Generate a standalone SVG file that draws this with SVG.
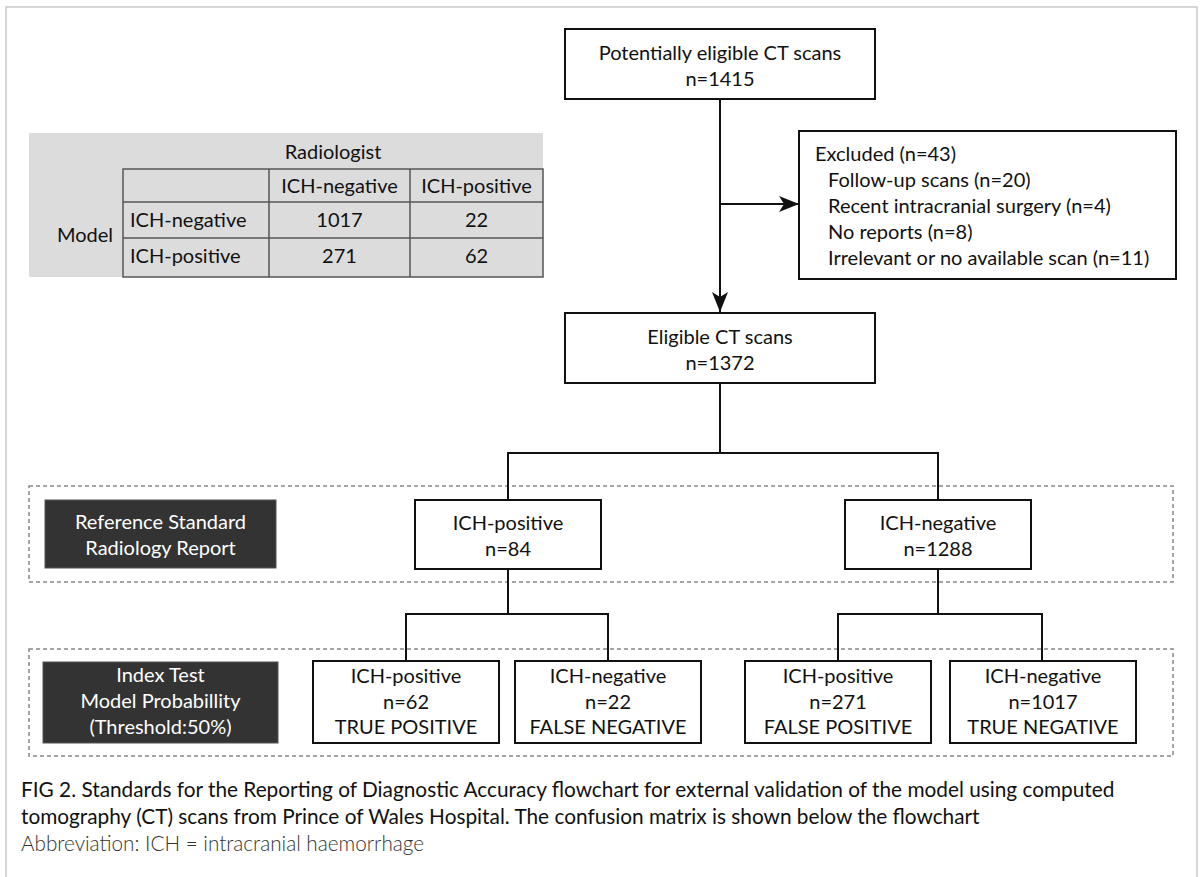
<svg xmlns="http://www.w3.org/2000/svg" width="1203" height="877" viewBox="0 0 1203 877">
<style>
text{font-family:"Lato","Liberation Sans",sans-serif;font-size:20px;fill:#111}
.c{text-anchor:middle}
.w{fill:#fff}
.box{fill:#fff;stroke:#111;stroke-width:2}
.dark{fill:#333;stroke:#555;stroke-width:1}
.dash{fill:none;stroke:#888;stroke-width:1.5;stroke-dasharray:4 3}
.ln{fill:none;stroke:#111;stroke-width:2}
.grid{fill:none;stroke:#555;stroke-width:1.5}
.cap{font-size:20.8px}
.abbr{font-size:20.7px;font-weight:300;fill:#333}
</style>
<defs>
<marker id="ah" viewBox="0 0 20 16" refX="20" refY="8" markerWidth="20" markerHeight="16" markerUnits="userSpaceOnUse" orient="auto">
<path d="M0,0 L20,8 L0,16 L5,8 Z" fill="#111"/>
</marker>
</defs>
<rect x="6" y="7" width="1191" height="880" fill="#fff" stroke="#c8c8c8" stroke-width="1.5"/>

<g id="matrix">
<rect x="29" y="133" width="514" height="144" fill="#dcdcdc"/>
<rect x="123" y="169" width="420" height="108" class="grid"/>
<line x1="123" y1="202" x2="543" y2="202" class="grid"/>
<line x1="123" y1="238" x2="543" y2="238" class="grid"/>
<line x1="269" y1="169" x2="269" y2="277" class="grid"/>
<line x1="410" y1="169" x2="410" y2="277" class="grid"/>
<text x="333" y="159" class="c">Radiologist</text>
<text x="85" y="242" class="c">Model</text>
<text x="339.5" y="193" class="c">ICH-negative</text>
<text x="476.5" y="193" class="c">ICH-positive</text>
<text x="130" y="227">ICH-negative</text>
<text x="130" y="263">ICH-positive</text>
<text x="339.5" y="227" class="c">1017</text>
<text x="476.5" y="227" class="c">22</text>
<text x="339.5" y="263" class="c">271</text>
<text x="476.5" y="263" class="c">62</text>
</g>

<g id="bands">
<rect x="29" y="486" width="1144" height="96" class="dash"/>
<rect x="29" y="649" width="1144" height="107" class="dash"/>
</g>

<g id="connectors">
<line x1="720" y1="99" x2="720" y2="312" class="ln" marker-end="url(#ah)"/>
<line x1="720" y1="204" x2="799" y2="204" class="ln" marker-end="url(#ah)"/>
<polyline points="720,383 720,453" class="ln"/>
<polyline points="508,500 508,453 938,453 938,500" class="ln"/>
<polyline points="508,569 508,614" class="ln"/>
<polyline points="406,661 406,614 608,614 608,661" class="ln"/>
<polyline points="938,569 938,614" class="ln"/>
<polyline points="838,661 838,614 1042,614 1042,661" class="ln"/>
</g>

<g id="n_potential">
<rect x="565" y="29" width="310" height="70" class="box"/>
<text x="720" y="60" class="c">Potentially eligible CT scans</text>
<text x="720" y="86" class="c">n=1415</text>
</g>

<g id="n_excluded">
<rect x="799" y="131" width="377" height="148" class="box"/>
<text x="815" y="161">Excluded (n=43)</text>
<text x="828" y="187">Follow-up scans (n=20)</text>
<text x="828" y="213">Recent intracranial surgery (n=4)</text>
<text x="828" y="239">No reports (n=8)</text>
<text x="828" y="265">Irrelevant or no available scan (n=11)</text>
</g>

<g id="n_eligible">
<rect x="565" y="313" width="310" height="70" class="box"/>
<text x="720" y="344" class="c">Eligible CT scans</text>
<text x="720" y="370" class="c">n=1372</text>
</g>

<g id="lbl_reference">
<rect x="45" y="500" width="231" height="68" class="dark"/>
<text x="160.5" y="529" class="c w">Reference Standard</text>
<text x="160.5" y="555" class="c w">Radiology Report</text>
</g>

<g id="n_ref_pos">
<rect x="415" y="500" width="186" height="69" class="box"/>
<text x="508" y="530" class="c">ICH-positive</text>
<text x="508" y="556" class="c">n=84</text>
</g>

<g id="n_ref_neg">
<rect x="845" y="500" width="186" height="69" class="box"/>
<text x="938" y="530" class="c">ICH-negative</text>
<text x="938" y="556" class="c">n=1288</text>
</g>

<g id="lbl_index">
<rect x="43" y="662" width="235" height="81" class="dark"/>
<text x="160.5" y="682" class="c w">Index Test</text>
<text x="160.5" y="708" class="c w">Model Probabillity</text>
<text x="160.5" y="734" class="c w">(Threshold:50%)</text>
</g>

<g id="n_tp">
<rect x="313" y="661" width="186" height="82" class="box"/>
<text x="406" y="683" class="c">ICH-positive</text>
<text x="406" y="709" class="c">n=62</text>
<text x="406" y="734" class="c">TRUE POSITIVE</text>
</g>

<g id="n_fn">
<rect x="515" y="661" width="186" height="82" class="box"/>
<text x="608" y="683" class="c">ICH-negative</text>
<text x="608" y="709" class="c">n=22</text>
<text x="608" y="734" class="c">FALSE NEGATIVE</text>
</g>

<g id="n_fp">
<rect x="745" y="661" width="186" height="82" class="box"/>
<text x="838" y="683" class="c">ICH-positive</text>
<text x="838" y="709" class="c">n=271</text>
<text x="838" y="734" class="c">FALSE POSITIVE</text>
</g>

<g id="n_tn">
<rect x="950" y="661" width="186" height="82" class="box"/>
<text x="1043" y="683" class="c">ICH-negative</text>
<text x="1043" y="709" class="c">n=1017</text>
<text x="1043" y="734" class="c">TRUE NEGATIVE</text>
</g>

<g id="caption">
<text x="21" y="797" class="cap">FIG 2. Standards for the Reporting of Diagnostic Accuracy flowchart for external validation of the model using computed</text>
<text x="21" y="824" class="cap">tomography (CT) scans from Prince of Wales Hospital. The confusion matrix is shown below the flowchart</text>
<text x="21" y="851" class="abbr">Abbreviation: ICH = intracranial haemorrhage</text>
</g>
</svg>
